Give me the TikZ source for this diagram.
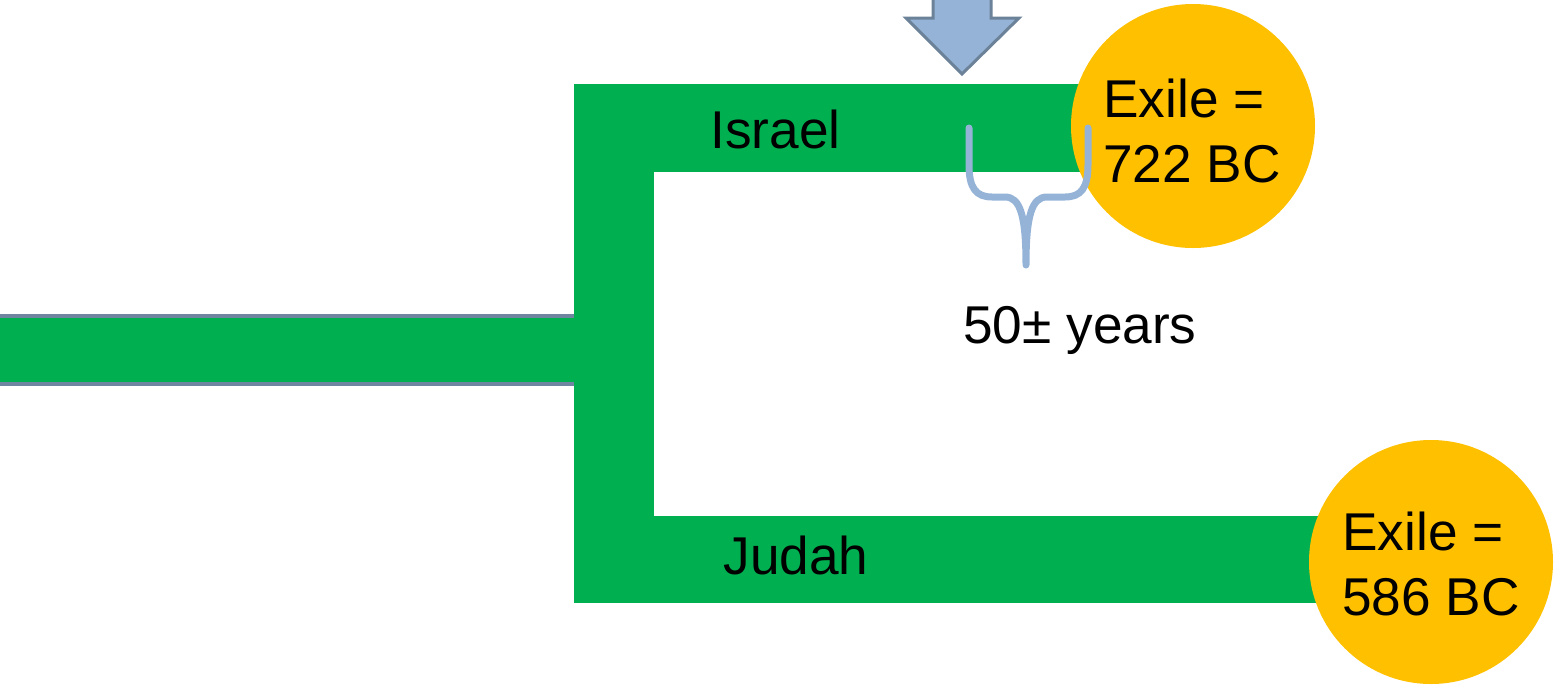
\documentclass[tikz,border=0pt]{standalone}
\usepackage{fontspec}
\setmainfont{Liberation Sans}
\definecolor{kgreen}{HTML}{00B050}
\definecolor{kgold}{HTML}{FFC000}
\definecolor{kblue}{HTML}{95B3D7}
\definecolor{kblueedge}{HTML}{6C8299}
\definecolor{kgrayedge}{HTML}{7085A0}
\tikzset{
  bar/.style={fill=kgreen, draw=none},
  exile/.style={circle, fill=kgold, draw=none, minimum size=122pt, inner sep=0pt},
  label/.style={font=\fontsize{26.6}{32.5}\selectfont, inner sep=0pt, text=black},
  brace/.style={draw=kblue, line width=3.5pt, line cap=round, line join=round},
}
\begin{document}
\begin{tikzpicture}[x=0.5pt, y=-0.5pt]
\useasboundingbox (0,0) rectangle (1555,686);
% stem before the split
\draw[bar, draw=kgrayedge, line width=2pt] (-10,316) rectangle (576,384);
% the split and the two kingdoms
\fill[kgreen] (574,84) rectangle (654,603);
\fill[kgreen] (574,84) rectangle (1100,172);
\fill[kgreen] (574,516) rectangle (1340,603);
% exile circles
\node[exile] (ex1) at (1193,126) {};
\node[exile] (ex2) at (1431,562) {};
\node[label, align=left, anchor=west] (ex1t) at (1103,131) {Exile =\\722 BC};
\node[label, align=left, anchor=west] (ex2t) at (1342,564) {Exile =\\586 BC};
% kingdom names
\node[label, anchor=base west] (israel) at (710,148) {Israel};
\node[label, anchor=base west] (judah) at (723,574) {Judah};
% arrow from above
\draw[fill=kblue, draw=kblueedge, line width=1.5pt, line join=miter]
  (933,-10) -- (933,18) -- (906,18) -- (962,74) -- (1019,18) -- (991,18) -- (991,-10) -- cycle;
% brace between the two exiles
\draw[brace] (969,128) -- (969,165) .. controls (969,188) and (976,197) .. (992,197)
  -- (1005,197) .. controls (1020,197) and (1026,215) .. (1026,265)
  .. controls (1026,215) and (1032,197) .. (1047,197)
  -- (1065,197) .. controls (1081,197) and (1088,188) .. (1088,165) -- (1088,128);
\node[label, anchor=base west] (gap) at (963,343) {50± years};
\end{tikzpicture}
\end{document}
